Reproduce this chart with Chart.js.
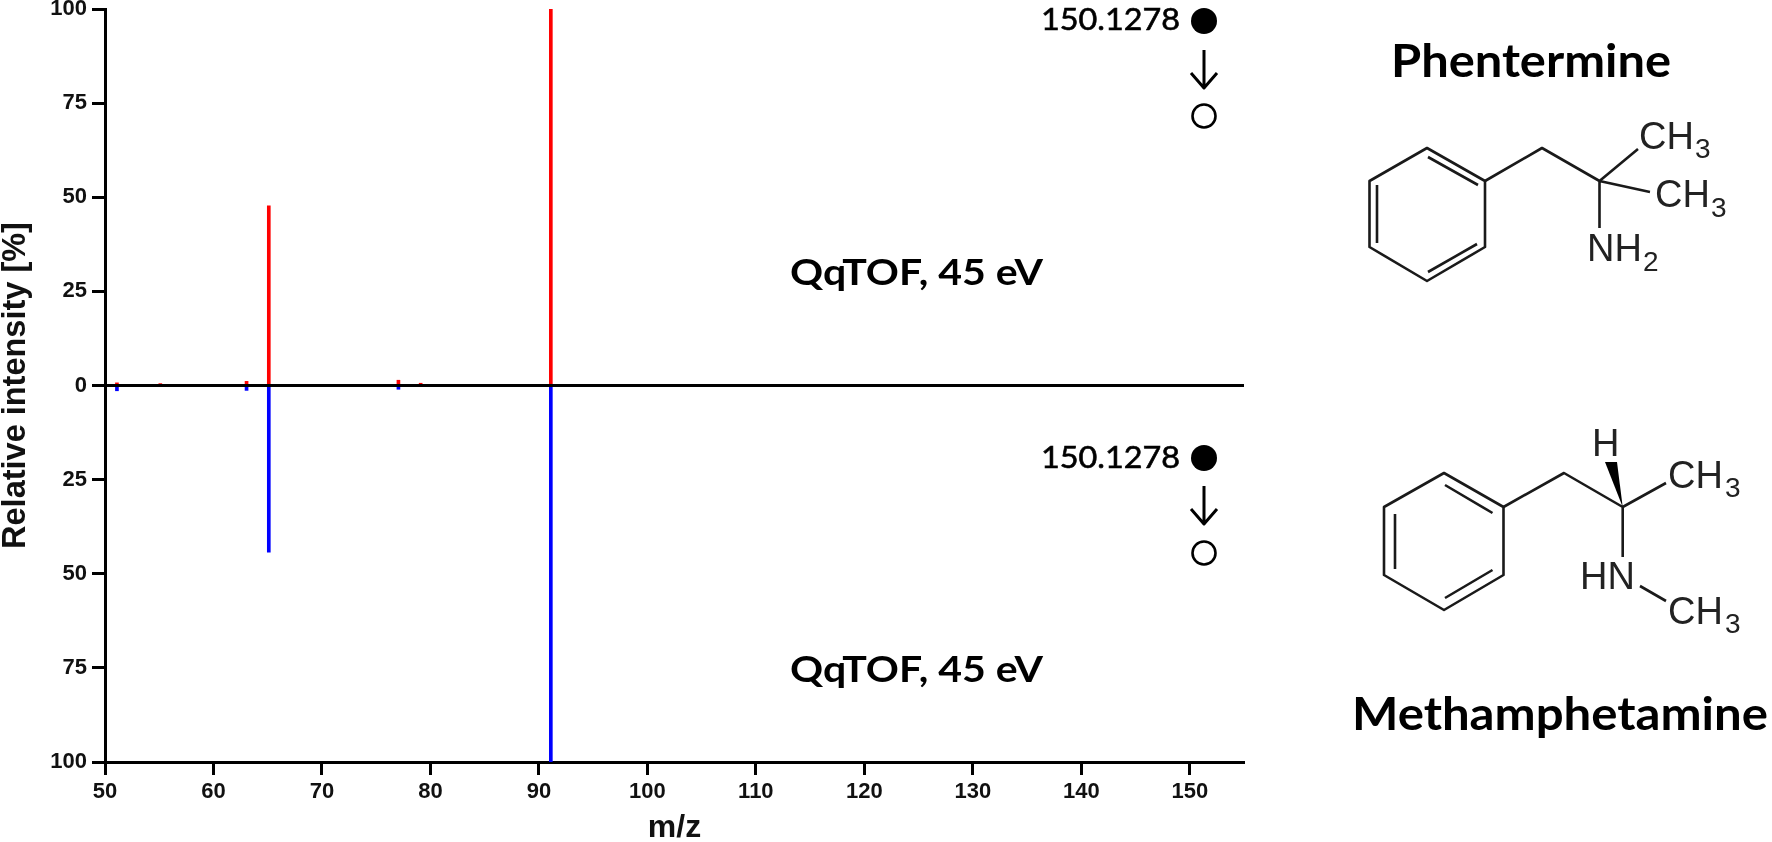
<!DOCTYPE html>
<html>
<head>
<meta charset="utf-8">
<title>Phentermine vs methamphetamine</title>
<script src="https://cdn.jsdelivr.net/npm/chart.js@4"></script>
<style>
  html, body { margin:0; padding:0; background:#fff; }
  #wrap { position:relative; width:1772px; height:842px; overflow:hidden; }
  #chart, #notes { position:absolute; left:0; top:0; }
  #notes .bond { stroke:#1a1a1a; stroke-width:2.6; fill:none; stroke-linejoin:round; }
  #notes .atom { font:38px "Liberation Sans", Arial, sans-serif; fill:#222; }
  #notes .sub { font:28px "Liberation Sans", Arial, sans-serif; fill:#222; }
  #notes .name { font:bold 45px Lato, sans-serif; fill:#000; }
  #notes .cond { font:bold 36px Lato, sans-serif; fill:#000; }
  #notes .ion { font:31px Lato, sans-serif; fill:#000; stroke:#000; stroke-width:0.6; }
</style>
</head>
<body>
<div id="wrap">
  <canvas id="chart" width="1772" height="842"></canvas>
  <svg id="notes" width="1772" height="842" xmlns="http://www.w3.org/2000/svg">
    <!-- labels next to the mirror plot -->
    <text class="cond" x="790" y="285" textLength="253" lengthAdjust="spacingAndGlyphs">QqTOF, 45 eV</text>
    <text class="cond" x="790" y="682" textLength="253" lengthAdjust="spacingAndGlyphs">QqTOF, 45 eV</text>

    <text class="ion" x="1041" y="30" textLength="139" lengthAdjust="spacingAndGlyphs">150.1278</text>
    <circle cx="1204" cy="21" r="13" fill="#000"/>
    <path class="bond" style="stroke:#000;stroke-width:3" d="M1204 50V88M1191 73L1204 88L1217 73"/>
    <circle cx="1204" cy="116" r="11.5" fill="#fff" stroke="#000" stroke-width="2.6"/>

    <text class="ion" x="1041" y="468" textLength="139" lengthAdjust="spacingAndGlyphs">150.1278</text>
    <circle cx="1204" cy="458" r="13" fill="#000"/>
    <path class="bond" style="stroke:#000;stroke-width:3" d="M1204 486V524M1191 509L1204 524L1217 509"/>
    <circle cx="1204" cy="553" r="11.5" fill="#fff" stroke="#000" stroke-width="2.6"/>

    <!-- phentermine -->
    <text class="name" x="1391" y="77" textLength="280" lengthAdjust="spacingAndGlyphs">Phentermine</text>
    <path class="bond" d="M1427 148L1485 181V247L1427 281L1369.5 247V181Z"/>
    <path class="bond" d="M1428 157L1478 185M1377 185V243M1428 272L1477 244"/>
    <path class="bond" d="M1485 181L1542 148L1599.5 181L1638 149M1599.5 181L1650 192M1599.5 181V228"/>
    <text class="atom" x="1639" y="149">CH</text><text class="sub" x="1695" y="158">3</text>
    <text class="atom" x="1655" y="207">CH</text><text class="sub" x="1711" y="217">3</text>
    <text class="atom" x="1587" y="261">NH</text><text class="sub" x="1643" y="271">2</text>

    <!-- methamphetamine -->
    <path class="bond" d="M1444 473L1503.5 507V575L1444 610L1384 575V507Z"/>
    <path class="bond" d="M1445 485L1492.5 513M1395 514V569M1445 598L1492.5 570"/>
    <path class="bond" d="M1503.5 507L1564 473L1622.7 507L1666 483M1622.7 507V557M1640 586L1666 601"/>
    <path d="M1622.7 507L1605 462L1617 462Z" fill="#000"/>
    <text class="atom" x="1592" y="456">H</text>
    <text class="atom" x="1668" y="488">CH</text><text class="sub" x="1725" y="497">3</text>
    <text class="atom" x="1580" y="589">HN</text>
    <text class="atom" x="1668" y="624">CH</text><text class="sub" x="1725" y="633">3</text>
    <text class="name" x="1352" y="730" textLength="416" lengthAdjust="spacingAndGlyphs">Methamphetamine</text>
  </svg>
</div>
<script>
// m/z of the fragment peaks
const mzPeaks = [51.1, 55.1, 63.05, 65.1, 77.05, 79.1, 91.1];
const phentermine = [0.7, 0.5, 1.1, 47.7, 1.4, 0.6, 100];
// lower half of the mirror plot, so negative
const methamphetamine = [-1.4, 0, -1.3, -44.3, -1.0, 0, -100];

const mzMin = 50, mzMax = 155, mzStep = 10;
const intensityTickStep = 25;

const toPoints = (ys)=> mzPeaks.map((x,i)=>({x, y: ys[i]}));
const axisFont = { family:'"Liberation Sans", Arial, sans-serif', weight:'bold', size:22 };
const titleFont = { family:'"Liberation Sans", Arial, sans-serif', weight:'bold', size:32, lineHeight:1 };

new Chart(document.getElementById('chart').getContext('2d'), {
  type: 'bar',
  data: {
    datasets: [
      { label:'Phentermine', data: toPoints(phentermine), backgroundColor:'#ff0000', barThickness:3, grouped:false },
      { label:'Methamphetamine', data: toPoints(methamphetamine), backgroundColor:'#0000ff', barThickness:3, grouped:false }
    ]
  },
  options: {
    responsive: false,
    animation: false,
    layout: { autoPadding:false, padding:{ left:0, right:528, top:9, bottom:0 } },
    plugins: { legend:{ display:false }, tooltip:{ enabled:false } },
    scales: {
      x: {
        type:'linear', min:mzMin, max:mzMax, offset:false,
        afterFit: (s)=>{ s.height = 80; },
        grid: { offset:false, drawOnChartArea:false, tickColor:'#000', tickWidth:3, tickLength:13 },
        border: { color:'#000', width:3 },
        // includeBounds off or 150 gets swapped for the 155 axis end
        ticks: { stepSize:mzStep, includeBounds:false, color:'#111', font:axisFont, padding:4, maxRotation:0, autoSkip:false },
        title: { display:true, text:'m/z', color:'#111', font:titleFont, padding:{ top:0, bottom:-2 } }
      },
      y: {
        min:-100, max:100,
        // paddingTop would push the plot down to make room for the "100" label
        afterFit: (s)=>{ s.width = 105; s.paddingTop = 0; s.paddingBottom = 0; },
        grid: {
          z:1,
          color: (c)=> c.tick && c.tick.value === 0 ? '#000' : 'rgba(0,0,0,0)',
          lineWidth:3, tickColor:'#000', tickWidth:3, tickLength:13
        },
        // same layer as the grid, the border position is worked out when the grid draws
        border: { color:'#000', width:3, z:1 },
        ticks: {
          stepSize:intensityTickStep, color:'#111', font:axisFont, padding:5,
          callback: (v)=> String(Math.abs(v))
        },
        title: { display:true, text:'Relative intensity [%]', color:'#111', font:{ ...titleFont, size:32.5 }, padding:{ top:0, bottom:0 } }
      }
    }
  }
});
</script>
</body>
</html>
